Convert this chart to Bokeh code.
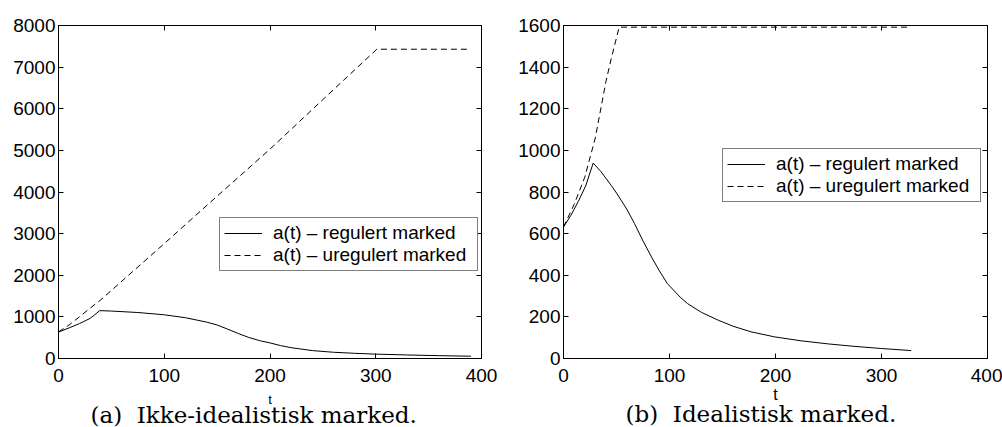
from bokeh.plotting import figure
from bokeh.models import Range1d, LinearAxis, FixedTicker, Legend, LegendItem, Title
from bokeh.layouts import row
from bokeh.embed import file_html
from bokeh.resources import INLINE

# ---------------- data: (a) Ikke-idealistisk marked ----------------
a_reg_t = [0, 10, 20, 30, 39, 50, 75, 100, 120, 140, 150, 160, 170, 180, 190, 200,
           210, 220, 240, 260, 280, 300, 330, 360, 390]
a_reg_v = [635, 735, 840, 965, 1150, 1140, 1105, 1050, 980, 875, 805, 705, 600, 505, 430, 375,
           310, 260, 190, 150, 125, 105, 85, 68, 55]
a_ureg_t = [0, 10, 20, 30, 40, 100, 150, 200, 250, 301, 390]
a_ureg_v = [640, 805, 1005, 1210, 1410, 2760, 3900, 5030, 6220, 7430, 7430]

# ---------------- data: (b) Idealistisk marked ----------------
b_reg_t = [0, 7, 14, 21, 28, 35, 45, 50, 60, 67, 75, 83, 90, 98, 110, 117, 130, 146,
           160, 177, 199, 224, 250, 275, 300, 328]
b_reg_v = [632, 688, 755, 830, 939, 900, 832, 795, 715, 648, 565, 488, 425, 360, 295, 264, 222, 184,
           155, 128, 104, 85, 70, 58, 48, 38]
b_ureg_t = [0, 10, 20, 30, 40, 45, 52.5, 326]
b_ureg_v = [632, 740, 870, 1060, 1330, 1440, 1592, 1592]

x_ticks = [0, 100, 200, 300, 400]
a_y_ticks = [0, 1000, 2000, 3000, 4000, 5000, 6000, 7000, 8000]
b_y_ticks = [0, 200, 400, 600, 800, 1000, 1200, 1400, 1600]
legend_labels = ["a(t) \u2013 regulert marked", "a(t) \u2013 uregulert marked"]
captions = ["(a)\u00a0 Ikke-idealistisk marked.", "(b)\u00a0 Idealistisk marked."]
x_label = "t"

TICK_FONT = "Liberation Sans"


def make_plot(reg_t, reg_v, ureg_t, ureg_v, y_max, y_ticks, caption, cap_offset, cap_standoff,
              leg_loc, borders, t_size, t_standoff):
    bl, br, bt, bb = borders
    p = figure(width=501, height=427, output_backend="svg", toolbar_location=None,
               x_range=Range1d(0, 400), y_range=Range1d(0, y_max),
               min_border_left=bl, min_border_right=br, min_border_top=bt, min_border_bottom=bb)
    p.xgrid.visible = False
    p.ygrid.visible = False
    p.background_fill_color = "white"
    p.border_fill_color = "white"
    p.outline_line_color = "black"
    p.outline_line_width = 1

    r1 = p.line(reg_t, reg_v, line_color="black", line_width=1)
    r2 = p.line(ureg_t, ureg_v, line_color="black", line_width=1, line_dash="6 4")

    for ax, ticks in ((p.xaxis[0], x_ticks), (p.yaxis[0], y_ticks)):
        ax.ticker = FixedTicker(ticks=ticks)
        ax.major_tick_in = 5
        ax.major_tick_out = 0
        ax.minor_tick_line_color = None
        ax.axis_line_color = "black"
        ax.major_tick_line_color = "black"
        ax.major_label_text_font = TICK_FONT
        ax.major_label_text_font_size = "19px"
        ax.major_label_text_color = "black"
    p.xaxis.major_label_standoff = 10
    p.yaxis.major_label_standoff = 3
    p.xaxis.axis_label = x_label
    p.xaxis.axis_label_text_font = TICK_FONT
    p.xaxis.axis_label_text_font_style = "normal"
    p.xaxis.axis_label_text_font_size = t_size
    p.xaxis.axis_label_standoff = t_standoff
    p.xaxis.axis_label_text_color = "black"

    # tick marks on the top and right edges of the box (no labels)
    for loc, ticks in (("above", x_ticks), ("right", y_ticks)):
        ax = LinearAxis(ticker=FixedTicker(ticks=ticks), major_tick_in=5, major_tick_out=0,
                        minor_tick_line_color=None, axis_line_color="black",
                        major_tick_line_color="black", major_label_text_font_size="1px",
                        major_label_text_color=None, major_label_text_alpha=0,
                        major_label_standoff=0)
        p.add_layout(ax, loc)

    legend = Legend(items=[LegendItem(label=legend_labels[0], renderers=[r1]),
                           LegendItem(label=legend_labels[1], renderers=[r2])],
                    location=leg_loc, orientation="vertical",
                    label_text_font=TICK_FONT, label_text_font_size="19px",
                    label_text_color="black",
                    border_line_color="black", border_line_width=1,
                    background_fill_color="white", background_fill_alpha=1,
                    padding=4, spacing=0, margin=0,
                    glyph_width=38, glyph_height=20, label_height=20,
                    label_standoff=11, label_width=200)
    p.add_layout(legend)

    p.add_layout(Title(text=caption, align="left", offset=cap_offset, standoff=cap_standoff,
                       vertical_align="top", text_font="DejaVu Serif",
                       text_font_size="23px", text_font_style="normal",
                       text_color="black"), "below")
    return p


p1 = make_plot(a_reg_t, a_reg_v, a_ureg_t, a_ureg_v, 8000, a_y_ticks, captions[0], 32, -16,
               (161, 87), (58, 20, 24, 69), "13px", 7)
p2 = make_plot(b_reg_t, b_reg_v, b_ureg_t, b_ureg_v, 1600, b_y_ticks, captions[1], 62, -10,
               (159, 156), (62, 15, 25, 69), "16px", 1)

layout = row(p1, p2)
open("out.html", "w").write(file_html(layout, INLINE))
